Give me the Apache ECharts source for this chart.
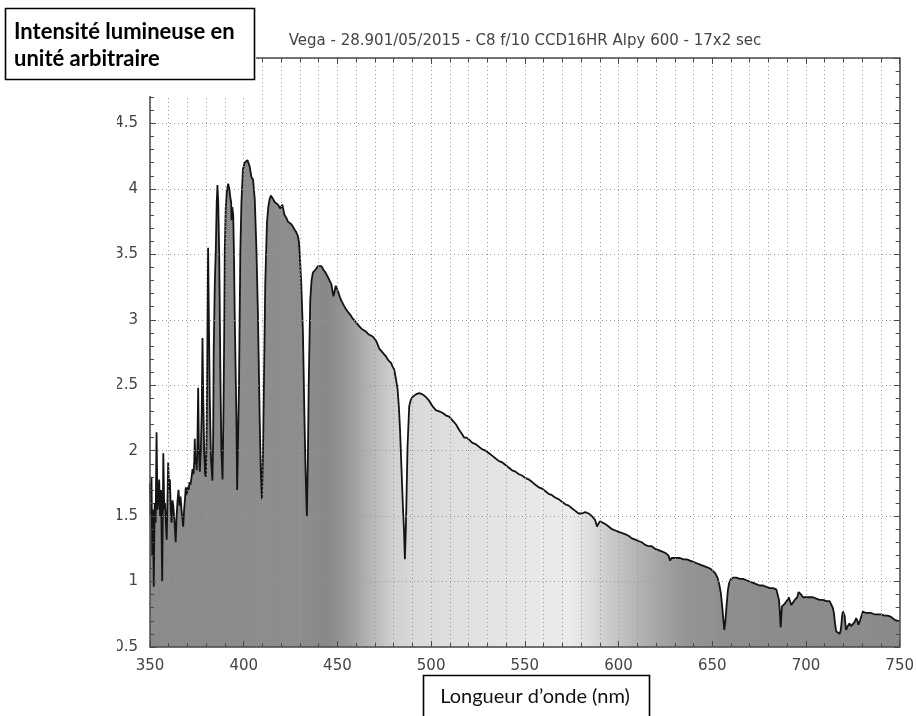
<!DOCTYPE html>
<html>
<head>
<meta charset="utf-8">
<script src="https://cdn.jsdelivr.net/npm/echarts@6/dist/echarts.min.js"></script>
<style>
html,body{margin:0;padding:0;background:#fff;}
#c{width:917px;height:716px;}
</style>
</head>
<body>
<div id="c"></div>
<script>
// ---- data ----
const titleText = 'Vega - 28.901/05/2015 - C8 f/10 CCD16HR Alpy 600 - 17x2 sec';
const yAxisLabelLines = ['Intensité lumineuse en', 'unité arbitraire'];
const xAxisLabelText = 'Longueur d\u2019onde (nm)';
const xRange = [350, 750];
const yRange = [0.5, 5.0];
const xTickStep = 50;
const yTickStep = 0.5;

const wavelengthNm = [
350.0,350.4,350.8,351.2,351.6,352.0,352.5,353.0,353.5,354.0,354.4,354.9,355.4,355.9,356.5,357.1,357.6,358.0,358.5,358.9,
359.3,359.7,360.2,360.6,361.1,361.5,362.0,362.4,363.0,363.7,364.2,364.7,365.2,365.8,366.3,366.8,367.3,367.7,368.2,368.6,
369.1,369.6,370.1,370.6,371.1,371.6,372.2,372.7,373.2,373.6,373.9,374.2,374.6,374.9,375.3,375.7,376.1,376.6,377.1,377.6,
378.0,378.4,378.9,379.4,379.8,380.2,380.6,381.0,381.4,381.9,382.5,383.3,383.7,384.0,384.6,385.1,385.6,386.0,386.4,386.9,
387.6,388.1,388.7,389.2,389.6,389.9,390.4,391.0,391.7,392.3,392.9,393.3,393.5,393.9,394.4,394.8,395.2,395.7,396.1,396.5,
397.0,397.5,398.2,398.8,399.6,400.5,401.3,402.0,402.3,403.2,404.1,405.0,405.9,406.8,407.6,408.5,409.1,409.7,410.3,410.8,
411.5,412.4,413.1,413.8,414.5,415.1,415.8,416.5,417.4,418.3,419.5,420.6,421.2,421.8,422.7,423.6,424.5,425.4,426.3,427.1,
428.0,428.9,429.4,429.8,430.7,431.6,432.4,433.0,433.7,434.2,434.7,435.5,436.2,436.9,437.8,438.7,439.5,440.4,441.5,442.6,
443.7,444.8,445.7,446.8,447.6,447.9,448.5,449.1,449.6,450.5,451.4,452.3,453.4,454.6,455.6,456.8,458.1,459.4,460.5,461.7,
463.0,464.1,465.2,466.5,467.8,469.0,469.7,470.6,471.5,472.3,473.5,474.7,475.9,477.2,478.6,479.5,480.3,481.2,482.1,482.8,
483.4,484.4,485.0,485.5,486.0,486.4,486.7,487.4,488.3,489.2,490.1,491.9,493.6,495.4,497.2,499.0,500.7,502.5,504.3,506.0,
507.8,509.6,511.5,513.3,514.9,515.8,516.8,517.6,519.0,520.5,522.0,523.8,525.5,527.3,529.1,530.9,532.7,534.4,536.2,538.0,
539.7,541.5,543.2,545.0,546.8,548.5,550.3,552.1,553.9,555.6,557.4,559.2,561.0,562.7,564.5,566.3,568.0,569.8,571.6,573.4,
575.1,576.9,578.7,580.5,582.2,584.0,585.8,587.5,588.5,589.2,590.1,591.1,592.9,594.7,596.5,598.3,600.0,602.0,603.8,605.3,
607.1,608.9,610.7,612.4,614.2,616.0,617.7,619.5,621.3,623.0,624.8,626.6,627.5,628.3,629.3,631.0,632.8,634.6,636.4,638.1,
639.9,641.7,643.5,645.3,647.0,648.8,650.5,651.7,652.8,653.7,654.6,655.5,656.4,657.0,657.6,658.3,659.0,660.0,661.2,662.9,
664.7,666.5,668.2,670.0,671.8,673.5,675.3,677.1,678.9,680.6,682.4,684.2,685.1,685.6,686.0,686.5,686.9,687.2,687.8,688.6,
689.5,690.2,690.8,691.5,692.2,693.1,694.0,695.3,696.1,696.6,697.5,698.4,700.2,702.0,703.7,705.5,707.3,709.0,710.8,712.6,
713.5,714.3,714.9,715.5,716.1,717.0,717.9,718.4,718.8,719.3,719.7,720.2,720.6,721.0,721.4,722.3,723.2,724.1,725.0,725.9,
726.8,727.4,728.0,729.0,730.3,731.2,732.1,733.0,734.8,736.5,738.3,740.1,741.8,743.6,745.4,747.1,748.9,750.0
];
const intensity = [
1.75,1.50,1.80,1.20,1.55,0.96,1.60,1.45,2.14,1.55,1.62,1.78,1.50,1.70,1.00,1.98,1.55,1.60,1.45,1.32,
1.60,1.91,1.70,1.78,1.55,1.45,1.62,1.58,1.48,1.30,1.50,1.62,1.70,1.58,1.65,1.55,1.48,1.42,1.55,1.62,
1.72,1.66,1.72,1.70,1.76,1.74,1.80,1.86,1.82,1.92,2.09,1.90,1.95,1.85,2.05,2.48,2.00,1.84,2.00,2.30,
2.86,2.40,2.00,1.82,1.80,2.10,2.80,3.55,3.00,2.40,1.95,1.77,2.10,2.77,3.30,3.53,3.90,4.03,3.90,3.53,
2.52,2.00,1.78,2.30,2.90,3.53,3.85,3.98,4.04,4.00,3.93,3.90,3.76,3.86,3.80,3.50,3.03,2.60,2.26,1.70,
2.10,2.52,3.53,3.90,4.15,4.20,4.19,4.22,4.21,4.17,4.09,4.07,3.92,3.53,3.03,2.26,1.85,1.63,2.00,2.52,
3.28,3.74,3.86,3.92,3.95,3.95,3.92,3.90,3.89,3.88,3.85,3.88,3.84,3.80,3.78,3.75,3.74,3.73,3.71,3.69,
3.67,3.64,3.60,3.53,3.28,2.90,2.26,1.85,1.50,1.90,2.52,3.15,3.30,3.36,3.37,3.39,3.41,3.42,3.41,3.38,
3.36,3.33,3.32,3.27,3.20,3.18,3.22,3.26,3.25,3.21,3.17,3.14,3.11,3.08,3.06,3.04,3.01,2.99,2.97,2.95,
2.93,2.92,2.91,2.89,2.88,2.87,2.86,2.84,2.81,2.78,2.76,2.74,2.72,2.69,2.67,2.64,2.62,2.55,2.47,2.33,
2.16,1.78,1.55,1.40,1.17,1.35,1.53,2.03,2.34,2.39,2.41,2.43,2.44,2.43,2.41,2.38,2.34,2.31,2.30,2.29,
2.27,2.26,2.23,2.20,2.16,2.17,2.12,2.10,2.10,2.08,2.06,2.05,2.03,2.01,2.00,1.98,1.96,1.94,1.92,1.91,
1.89,1.87,1.85,1.84,1.82,1.81,1.79,1.78,1.76,1.74,1.72,1.71,1.69,1.67,1.66,1.64,1.63,1.61,1.59,1.58,
1.56,1.54,1.52,1.52,1.53,1.52,1.50,1.47,1.42,1.44,1.46,1.45,1.44,1.42,1.40,1.39,1.38,1.37,1.36,1.35,
1.33,1.32,1.31,1.30,1.28,1.27,1.27,1.25,1.24,1.23,1.22,1.20,1.16,1.18,1.19,1.18,1.18,1.17,1.17,1.16,
1.15,1.14,1.13,1.12,1.11,1.10,1.08,1.06,1.03,0.98,0.91,0.78,0.63,0.70,0.81,0.93,0.99,1.02,1.03,1.03,
1.02,1.02,1.01,1.00,0.99,0.98,0.97,0.97,0.96,0.95,0.95,0.94,0.94,0.86,0.78,0.65,0.75,0.81,0.82,0.83,
0.82,0.86,0.88,0.85,0.82,0.84,0.86,0.88,0.92,0.92,0.90,0.88,0.88,0.88,0.88,0.87,0.86,0.86,0.85,0.85,
0.84,0.80,0.76,0.68,0.62,0.61,0.60,0.62,0.66,0.74,0.77,0.76,0.74,0.68,0.63,0.66,0.68,0.66,0.66,0.69,
0.72,0.70,0.67,0.71,0.77,0.77,0.76,0.76,0.76,0.75,0.75,0.75,0.74,0.74,0.73,0.71,0.70,0.70
];
// grey shade of the filled spectrum strip: [wavelength, grey]
const fillShadeNm = [350, 430, 445, 455, 468, 480, 492, 520, 560, 575, 585, 595, 615, 635, 660, 750];
const fillShadeGrey = ['#8b8b8b','#8d8d8d','#888888','#989898','#b6b6b6','#d0d0d0','#dadada','#e1e1e1','#e9e9e9','#ebebeb','#dddddd','#cbcbcb','#adadad','#959595','#8d8d8d','#8a8a8a'];

// ---- chart ----
const points = wavelengthNm.map((w, i) => [w, intensity[i]]);
const stops = fillShadeNm.map((w, i) => ({offset: (w - xRange[0]) / (xRange[1] - xRange[0]), color: fillShadeGrey[i]}));

const chart = echarts.init(document.getElementById('c'), null, {renderer: 'canvas'});
const axisColor = '#4a4a4a';
const gridLine = {show: true, lineStyle: {type: [1, 3], color: '#999', width: 1}};
const labelStyle = {fontFamily: 'DejaVu Sans', fontSize: 15, color: '#444'};

function xAx(pos, showLabel) {
  return {
    type: 'value', position: pos, min: xRange[0], max: xRange[1], interval: xTickStep, z: 3,
    axisLine: {show: true, onZero: false, lineStyle: {color: axisColor, width: 1.5}},
    axisTick: {show: true, inside: true, length: 6, lineStyle: {color: axisColor}},
    minorTick: {show: true, splitNumber: 5, length: 4, lineStyle: {color: axisColor}},
    axisLabel: Object.assign({show: showLabel, margin: 12}, labelStyle),
    splitLine: showLabel ? gridLine : {show: false},
    minorSplitLine: showLabel ? gridLine : {show: false}
  };
}
function yAx(pos, showLabel) {
  return {
    type: 'value', position: pos, min: yRange[0], max: yRange[1], interval: yTickStep, z: 3,
    axisLine: {show: true, onZero: false, lineStyle: {color: axisColor, width: 1.5}},
    axisTick: {show: true, inside: true, length: 6, lineStyle: {color: axisColor}},
    minorTick: {show: true, splitNumber: 5, length: 4, lineStyle: {color: axisColor}},
    axisLabel: Object.assign({show: showLabel, margin: 12}, labelStyle),
    splitLine: showLabel ? gridLine : {show: false},
    minorSplitLine: {show: false}
  };
}

chart.setOption({
  animation: false,
  backgroundColor: '#fff',
  grid: {left: 150, right: 14, top: 58, bottom: 69, containLabel: false},
  xAxis: [xAx('bottom', true), xAx('top', false)],
  yAxis: [yAx('left', true), yAx('right', false)],
  series: [{
    type: 'line',
    data: points,
    showSymbol: false,
    smooth: false,
    z: 2,
    lineStyle: {color: '#141414', width: 1.8},
    areaStyle: {origin: 'start', opacity: 1, color: new echarts.graphic.LinearGradient(0, 0, 1, 0, stops)}
  }],
  graphic: [
    {type: 'rect', z: 100, shape: {x: 0, y: 0, width: 256, height: 96}, style: {fill: '#fff'}},
    {type: 'rect', z: 100, shape: {x: 0, y: 96, width: 117, height: 620}, style: {fill: '#fff'}},
    {type: 'rect', z: 101, shape: {x: 5.5, y: 8.5, width: 249, height: 71}, style: {fill: '#fff', stroke: '#000', lineWidth: 1.6}},
    {type: 'text', z: 102, style: {x: 14, y: 32, text: yAxisLabelLines[0], font: 'bold 22px Lato', fill: '#000', textVerticalAlign: 'middle'}},
    {type: 'text', z: 102, style: {x: 14, y: 59, text: yAxisLabelLines[1], font: 'bold 22px Lato', fill: '#000', textVerticalAlign: 'middle'}},
    {type: 'text', z: 102, style: {x: 525, y: 41, text: titleText, font: '15px "DejaVu Sans"', fill: '#444', textAlign: 'center', textVerticalAlign: 'middle'}},
    {type: 'rect', z: 101, shape: {x: 423.5, y: 675.5, width: 226, height: 60}, style: {fill: '#fff', stroke: '#000', lineWidth: 1.6}},
    {type: 'text', z: 102, style: {x: 535, y: 697, text: xAxisLabelText, font: '20px Lato', fill: '#111', textAlign: 'center', textVerticalAlign: 'middle'}}
  ]
});
</script>
</body>
</html>
